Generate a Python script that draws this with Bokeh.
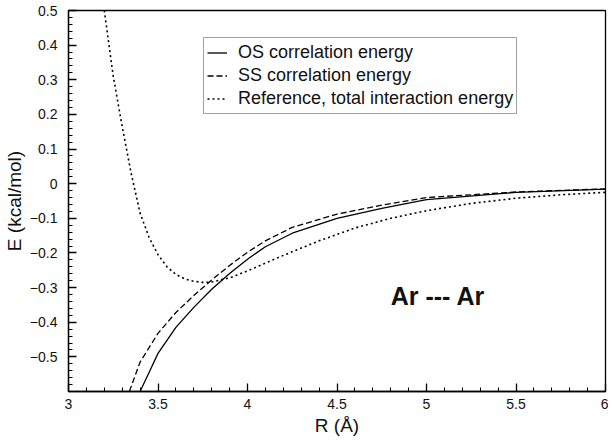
from bokeh.plotting import figure
from bokeh.models import (LinearAxis, FixedTicker, Legend, LegendItem, Range1d)
from bokeh.core.properties import value
from bokeh.embed import file_html
from bokeh.resources import INLINE

# ---- data ----
R_os = [3.40, 3.45, 3.50, 3.60, 3.70, 3.80, 3.90, 4.00, 4.10, 4.25, 4.50, 4.75, 5.00, 5.50, 6.00]
E_os = [-0.600, -0.545, -0.490, -0.415, -0.357, -0.305, -0.259, -0.218, -0.182, -0.143, -0.100, -0.071, -0.046, -0.025, -0.016]

R_ss = [3.34, 3.40, 3.50, 3.60, 3.70, 3.80, 3.90, 4.00, 4.10, 4.25, 4.50, 4.75, 5.00, 5.50, 6.00]
E_ss = [-0.600, -0.515, -0.432, -0.372, -0.323, -0.278, -0.236, -0.198, -0.165, -0.126, -0.088, -0.062, -0.040, -0.024, -0.015]

R_ref = [3.20, 3.25, 3.30, 3.35, 3.40, 3.45, 3.50, 3.55, 3.60, 3.65, 3.70, 3.75, 3.80, 3.90,
         4.00, 4.20, 4.40, 4.60, 4.80, 5.00, 5.25, 5.50, 5.75, 6.00]
E_ref = [0.50, 0.31, 0.165, 0.03, -0.085, -0.155, -0.205, -0.240, -0.262, -0.275, -0.282, -0.285, -0.284, -0.272,
         -0.252, -0.207, -0.165, -0.128, -0.100, -0.078, -0.057, -0.042, -0.032, -0.025]

series_labels = ["OS correlation energy", "SS correlation energy", "Reference, total interaction energy"]

x_ticks = [3.0, 3.5, 4.0, 4.5, 5.0, 5.5, 6.0]
x_tick_labels = ["3", "3.5", "4", "4.5", "5", "5.5", "6"]
x_minor = [round(3.0 + 0.1 * i, 2) for i in range(31)]

y_ticks = [-0.5, -0.4, -0.3, -0.2, -0.1, 0.0, 0.1, 0.2, 0.3, 0.4, 0.5]
y_tick_labels = ["\u22120.5", "\u22120.4", "\u22120.3", "\u22120.2", "\u22120.1", "0", "0.1", "0.2", "0.3", "0.4", "0.5"]
y_minor = [round(-0.6 + 0.02 * i, 2) for i in range(56)]

annotation = "Ar --- Ar"
x_label = "R (\u00c5)"
y_label = "E (kcal/mol)"

FONT = "Liberation Sans"

p = figure(width=608, height=438, output_backend="svg", toolbar_location=None,
           x_range=Range1d(3, 6), y_range=Range1d(-0.6, 0.5),
           min_border_left=63, min_border_right=3, min_border_top=10, min_border_bottom=47,
           x_axis_type=None, y_axis_type=None)
p.background_fill_color = "white"
p.border_fill_color = "white"
p.outline_line_color = "black"
p.outline_line_width = 1.3
p.xgrid.visible = False
p.ygrid.visible = False


def style_axis(ax, ticks, minor, labels):
    ax.ticker = FixedTicker(ticks=ticks, minor_ticks=minor)
    ax.axis_line_color = "black"
    ax.axis_line_width = 1.3
    ax.major_tick_line_color = "black"
    ax.minor_tick_line_color = "black"
    ax.major_tick_line_width = 1.3
    ax.minor_tick_line_width = 1
    ax.major_tick_in = 8
    ax.major_tick_out = 0
    ax.minor_tick_in = 4
    ax.minor_tick_out = 0
    ax.major_label_text_font = FONT
    ax.major_label_text_font_size = "14px"
    ax.major_label_text_color = "#111111"
    ax.major_label_overrides = {t: s for t, s in zip(ticks, labels)}


xb = LinearAxis(axis_label=x_label)
style_axis(xb, x_ticks, x_minor, x_tick_labels)
xb.major_label_standoff = 7
xb.axis_label_standoff = 3
xb.axis_label_text_font = FONT
xb.axis_label_text_font_style = "normal"
xb.axis_label_text_font_size = "19px"
xb.axis_label_text_color = "#111111"
p.add_layout(xb, "below")

yl = LinearAxis(axis_label=y_label)
style_axis(yl, y_ticks, y_minor, y_tick_labels)
yl.major_label_standoff = 11
yl.axis_label_standoff = 2
yl.axis_label_text_font = FONT
yl.axis_label_text_font_style = "normal"
yl.axis_label_text_font_size = "19px"
yl.axis_label_text_color = "#111111"
p.add_layout(yl, "left")

r_os = p.line(R_os, E_os, line_color="black", line_width=1.3)
r_ss = p.line(R_ss, E_ss, line_color="black", line_width=1.3, line_dash="6 3")
r_ref = p.line(R_ref, E_ref, line_color="black", line_width=1.6, line_dash="2 3")

p.text(x=[4.80], y=[-0.323], text=[annotation], text_font=value(FONT),
       text_font_style="bold", text_font_size="25px", text_baseline="middle",
       text_align="left", text_color="#111111")

legend = Legend(items=[LegendItem(label=series_labels[0], renderers=[r_os]),
                       LegendItem(label=series_labels[1], renderers=[r_ss]),
                       LegendItem(label=series_labels[2], renderers=[r_ref])],
                location=(135, 277))
legend.label_text_font = FONT
legend.label_text_font_size = "18px"
legend.label_text_color = "#111111"
legend.glyph_width = 20
legend.glyph_height = 23
legend.label_height = 23
legend.label_standoff = 11
legend.spacing = 0
legend.padding = 3
legend.margin = 0
legend.border_line_color = "#444444"
legend.border_line_width = 1
legend.background_fill_alpha = 1
p.add_layout(legend, "center")

open("out.html", "w").write(file_html(p, INLINE))
